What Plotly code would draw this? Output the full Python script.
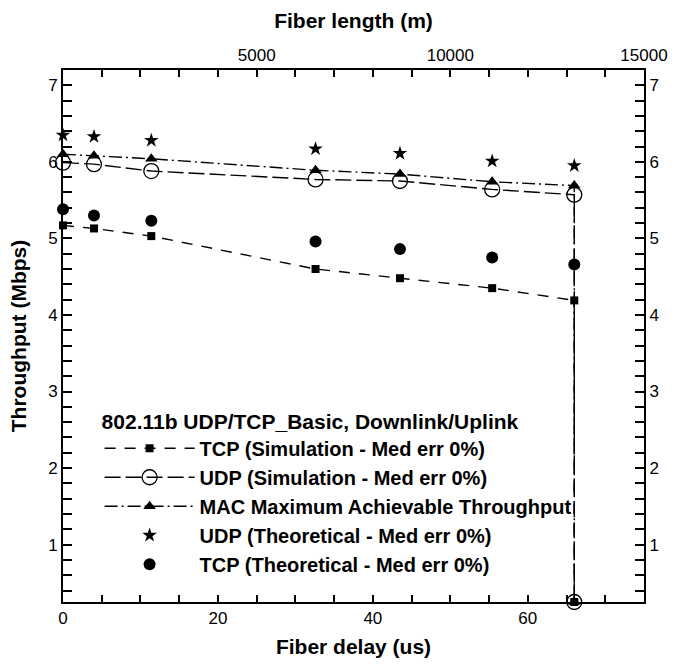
import numpy as np
import plotly.graph_objects as go

# Fiber delay (us)
delay = [0, 4, 11.4, 32.6, 43.5, 55.4, 66, 66]
delay_theo = [0, 4, 11.4, 32.6, 43.5, 55.4, 66]

tcp_sim = [5.17, 5.13, 5.03, 4.60, 4.48, 4.35, 4.19, 0.25]
udp_sim = [5.99, 5.97, 5.88, 5.77, 5.75, 5.64, 5.57, 0.25]
mac_max = [6.10, 6.08, 6.04, 5.89, 5.84, 5.74, 5.69, 0.25]
udp_theo = [6.35, 6.33, 6.28, 6.17, 6.11, 6.01, 5.95]
tcp_theo = [5.38, 5.30, 5.23, 4.96, 4.86, 4.75, 4.66]

x_major = [0, 20, 40, 60]
y_major = [1, 2, 3, 4, 5, 6, 7]
top_labels = [5000, 10000, 15000]

X_RANGE = [0, 75]
Y_RANGE = [0.25, 7.2]
TOP_RANGE = [0, 15000]

fig = go.Figure()
fig.add_trace(go.Scatter(x=delay, y=tcp_sim, mode="lines+markers",
                         name="<b>TCP (Simulation - Med err 0%)</b>",
                         line=dict(color="black", width=1.4, dash="11px,9px"),
                         marker=dict(symbol="square", size=8, color="black"),
                         cliponaxis=False))
fig.add_trace(go.Scatter(x=delay, y=udp_sim, mode="lines+markers",
                         name="<b>UDP (Simulation - Med err 0%)</b>",
                         line=dict(color="black", width=1.4, dash="16px,5px"),
                         marker=dict(symbol="circle-open", size=15, color="black",
                                     line=dict(width=1.3)),
                         cliponaxis=False))
fig.add_trace(go.Scatter(x=delay, y=mac_max, mode="lines+markers",
                         name="<b>MAC Maximum Achievable Throughput</b>",
                         line=dict(color="black", width=1.4, dash="13px,4px,2px,4px"),
                         marker=dict(symbol="triangle-up", size=11, color="black"),
                         cliponaxis=False))
fig.add_trace(go.Scatter(x=delay_theo, y=udp_theo, mode="markers",
                         name="<b>UDP (Theoretical - Med err 0%)</b>",
                         marker=dict(symbol="star", size=11, color="black"),
                         cliponaxis=False))
fig.add_trace(go.Scatter(x=delay_theo, y=tcp_theo, mode="markers",
                         name="<b>TCP (Theoretical - Med err 0%)</b>",
                         marker=dict(symbol="circle", size=12, color="black"),
                         cliponaxis=False))
# invisible trace for the top axis
fig.add_trace(go.Scatter(x=TOP_RANGE, y=Y_RANGE, xaxis="x2", yaxis="y2",
                         mode="markers", marker=dict(opacity=0),
                         showlegend=False, hoverinfo="skip"))

tick_font = dict(family="Liberation Sans Narrow, Arial Narrow, Liberation Sans", size=17, color="black")
title_font = dict(family="Liberation Sans Narrow, Arial Narrow, Liberation Sans", size=21, color="black")

x_ticks = list(np.arange(0, 75.1, 5))
x_text = [str(int(v)) if int(v) in x_major else "" for v in x_ticks]
y_ticks = [round(v, 1) for v in np.arange(0.4, 7.21, 0.2)]
y_text = [str(int(round(v))) if abs(v - round(v)) < 1e-6 and int(round(v)) in y_major else "" for v in y_ticks]
top_ticks = list(np.arange(0, 15001, 1000))
top_text = [str(int(v)) if int(v) in top_labels else "" for v in top_ticks]

fig.update_layout(
    width=680, height=667,
    margin=dict(l=63, r=27, t=70, b=59),
    paper_bgcolor="white", plot_bgcolor="white",
    showlegend=True,
    legend=dict(
        x=0.063, y=0.377, xanchor="left", yanchor="top",
        bgcolor="rgba(0,0,0,0)",
        font=dict(family="Liberation Sans, Arial", size=20, color="black"),
        title=dict(text="<b>802.11b UDP/TCP_Basic, Downlink/Uplink</b>",
                   font=dict(family="Liberation Sans, Arial", size=21, color="black")),
        itemwidth=90, tracegroupgap=0,
    ),
    xaxis=dict(range=X_RANGE, tickvals=x_ticks, ticktext=x_text,
               ticks="inside", ticklen=7, tickwidth=1.5, tickcolor="black",
               showline=True, linecolor="black", linewidth=2, mirror=False,
               showgrid=False, zeroline=False, tickfont=tick_font,
               title=dict(text="<b>Fiber delay (us)</b>", font=title_font, standoff=12)),
    xaxis2=dict(range=TOP_RANGE, overlaying="x", side="top", anchor="y",
                tickvals=top_ticks, ticktext=top_text,
                ticks="inside", ticklen=7, tickwidth=1.5, tickcolor="black",
                showline=True, linecolor="black", linewidth=2,
                showgrid=False, zeroline=False, tickfont=tick_font,
                title=dict(text="<b>Fiber length (m)</b>", font=title_font, standoff=12)),
    yaxis=dict(range=Y_RANGE, tickvals=y_ticks, ticktext=y_text,
               ticks="inside", ticklen=9, tickwidth=1.5, tickcolor="black",
               showline=True, linecolor="black", linewidth=2,
               showgrid=False, zeroline=False, tickfont=tick_font,
               title=dict(text="<b>Throughput (Mbps)</b>", font=title_font, standoff=16)),
    yaxis2=dict(range=Y_RANGE, overlaying="y", side="right", anchor="x",
                tickvals=y_ticks, ticktext=y_text,
                ticks="inside", ticklen=9, tickwidth=1.5, tickcolor="black",
                showline=True, linecolor="black", linewidth=2,
                showgrid=False, zeroline=False, tickfont=tick_font),
)

fig.write_html("out.html")
